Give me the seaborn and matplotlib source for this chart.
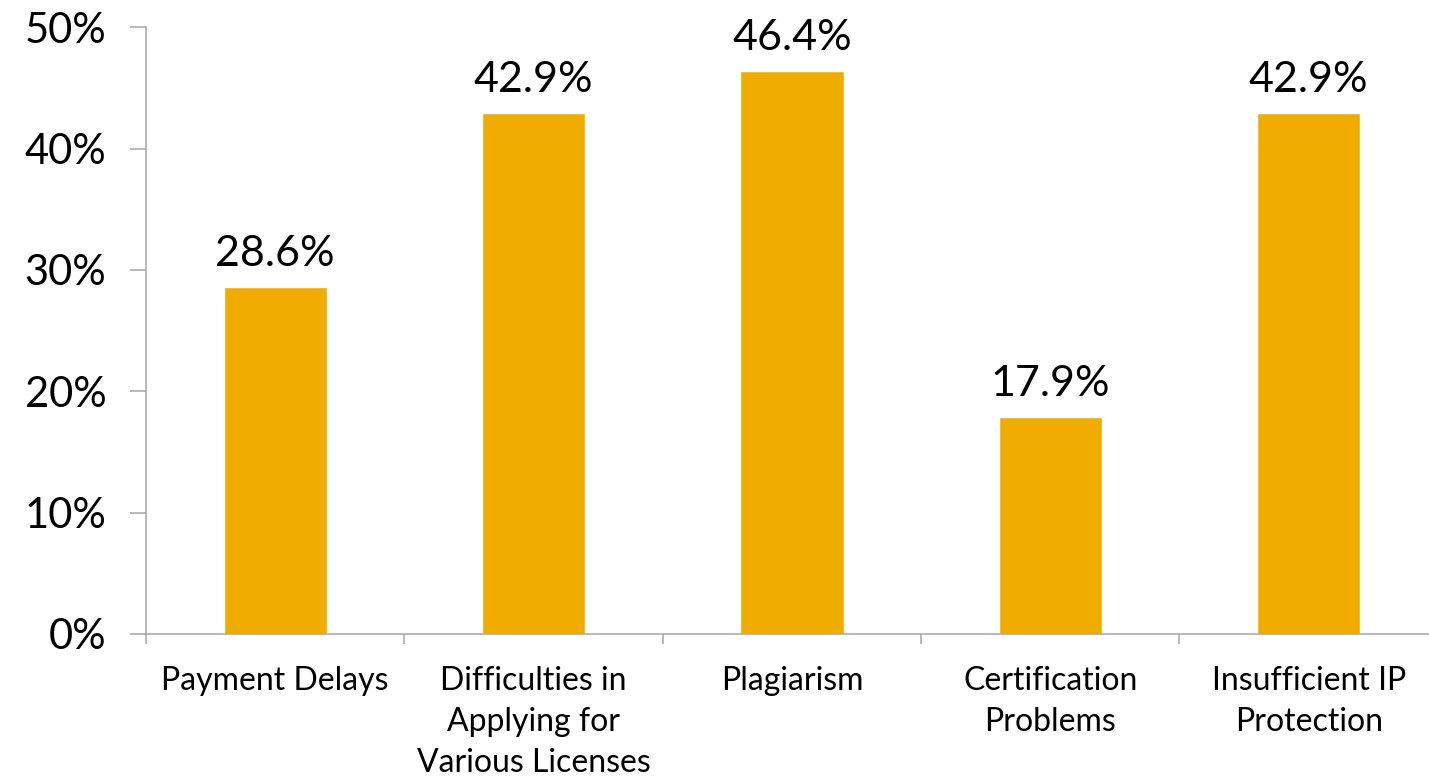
import matplotlib
matplotlib.use("Agg")
import matplotlib.pyplot as plt
import seaborn as sns
import pandas as pd
from matplotlib.ticker import FuncFormatter

categories = [
    "Payment Delays",
    "Difficulties in\nApplying for\nVarious Licenses",
    "Plagiarism",
    "Certification\nProblems",
    "Insufficient IP\nProtection",
]
values = [28.6, 42.9, 46.4, 17.9, 42.9]
y_ticks = [0, 10, 20, 30, 40, 50]

df = pd.DataFrame({"category": categories, "value": values})

sns.set_theme(style="white")
plt.rcParams["font.family"] = ["Lato", "DejaVu Sans"]

fig = plt.figure(figsize=(14.29, 7.76), dpi=100)
ax = fig.add_axes([0.1022, 0.183, 0.904, 0.782])

bar_color = "#F0AD00"
sns.barplot(data=df, x="category", y="value", color=bar_color, width=0.4,
            saturation=1, ax=ax)

ax.set_ylim(0, 50)
ax.set_xlim(-0.5, len(categories) - 0.5)
ax.set_yticks(y_ticks)
ax.yaxis.set_major_formatter(FuncFormatter(lambda v, _: f"{v:.0f}%"))
ax.set_xlabel("")
ax.set_ylabel("")

axis_color = "#A6A6A6"
for side in ["top", "right"]:
    ax.spines[side].set_visible(False)
for side in ["left", "bottom"]:
    ax.spines[side].set_color(axis_color)
    ax.spines[side].set_linewidth(1.1)

# category tick marks sit between the bars
ax.set_xticks([i - 0.5 for i in range(len(categories) + 1)], minor=True)
ax.tick_params(axis="x", which="minor", length=7.5, width=1.1, color=axis_color,
               direction="out", bottom=True)
ax.tick_params(axis="x", which="major", length=0, pad=23, labelsize=23,
               labelcolor="black")
ax.tick_params(axis="y", which="major", length=11.5, width=1.1, color=axis_color,
               direction="out", left=True, labelsize=30, pad=17,
               labelcolor="black")
for lbl in ax.get_xticklabels():
    lbl.set_multialignment("center")
    lbl.set_linespacing(1.45)

for i, v in enumerate(values):
    ax.annotate(f"{v:.1f}%", (i, v), xytext=(0, 10), textcoords="offset points",
                ha="center", va="bottom", fontsize=31, color="black")

fig.savefig("out.png", dpi=100)
